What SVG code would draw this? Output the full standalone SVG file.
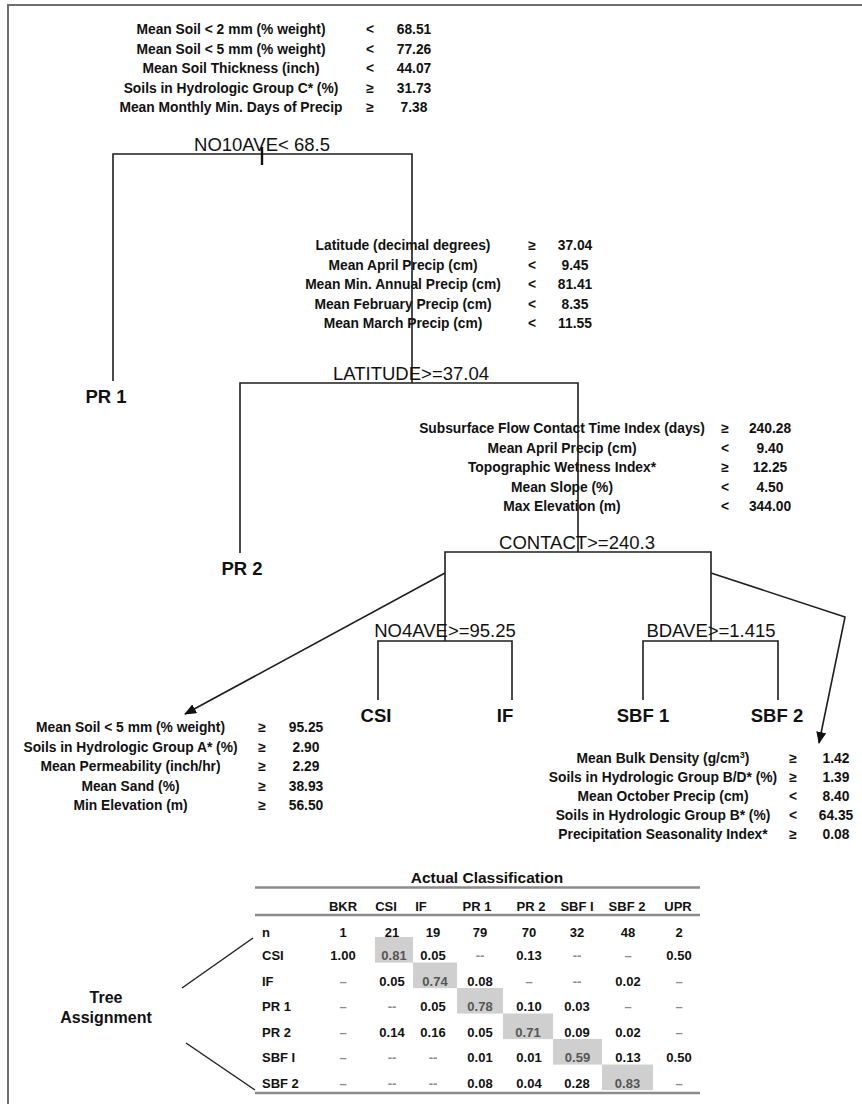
<svg xmlns="http://www.w3.org/2000/svg" width="862" height="1104" viewBox="0 0 862 1104">
<style>
text{font-family:"Liberation Sans",Arial,sans-serif;fill:#111}
.lab{font-weight:bold;font-size:13.8px;text-anchor:middle}
.split{font-size:18.5px;text-anchor:middle}
.leaf{font-weight:bold;font-size:18.5px;text-anchor:middle}
.ln{stroke:#1e1e1e;stroke-width:1.6;fill:none}
.frame{stroke:#6e6e6e;stroke-width:2;fill:none}
.tb{font-family:"Liberation Sans Narrow","Liberation Sans",Arial,sans-serif;font-weight:bold;font-size:13px;text-anchor:middle}
.rl{text-anchor:start}
.dd{fill:#8a8a8a}
.hl{fill:#cfcfcf}
.hv{fill:#555}
.rule{stroke:#8c8c8c;stroke-width:2.6}
</style>
<defs>
<marker id="ah" viewBox="0 0 12 10" refX="11" refY="5" markerWidth="12" markerHeight="10" markerUnits="userSpaceOnUse" orient="auto">
<path d="M0,0 L12,5 L0,10 z" fill="#111"/>
</marker>
</defs>
<rect width="862" height="1104" fill="#fff"/>
<path class="frame" d="M8,1104 V5 H862"/>

<g id="rules-root" class="lab">
<text x="231" y="34">Mean Soil &lt; 2 mm (% weight)</text><text x="370" y="34">&lt;</text><text x="414" y="34">68.51</text>
<text x="231" y="53.5">Mean Soil &lt; 5 mm (% weight)</text><text x="370" y="53.5">&lt;</text><text x="414" y="53.5">77.26</text>
<text x="231" y="73">Mean Soil Thickness (inch)</text><text x="370" y="73">&lt;</text><text x="414" y="73">44.07</text>
<text x="231" y="92.5">Soils in Hydrologic Group C* (%)</text><text x="370" y="92.5">≥</text><text x="414" y="92.5">31.73</text>
<text x="231" y="112">Mean Monthly Min. Days of Precip</text><text x="370" y="112">≥</text><text x="414" y="112">7.38</text>
</g>

<g id="rules-latitude" class="lab">
<text x="403" y="250">Latitude (decimal degrees)</text><text x="532" y="250">≥</text><text x="575" y="250">37.04</text>
<text x="403" y="269.5">Mean April Precip (cm)</text><text x="532" y="269.5">&lt;</text><text x="575" y="269.5">9.45</text>
<text x="403" y="289">Mean Min. Annual Precip (cm)</text><text x="532" y="289">&lt;</text><text x="575" y="289">81.41</text>
<text x="403" y="308.5">Mean February Precip (cm)</text><text x="532" y="308.5">&lt;</text><text x="575" y="308.5">8.35</text>
<text x="403" y="328">Mean March Precip (cm)</text><text x="532" y="328">&lt;</text><text x="575" y="328">11.55</text>
</g>

<g id="rules-contact" class="lab">
<text x="562" y="433">Subsurface Flow Contact Time Index (days)</text><text x="725" y="433">≥</text><text x="770" y="433">240.28</text>
<text x="562" y="452.5">Mean April Precip (cm)</text><text x="725" y="452.5">&lt;</text><text x="770" y="452.5">9.40</text>
<text x="562" y="472">Topographic Wetness Index*</text><text x="725" y="472">≥</text><text x="770" y="472">12.25</text>
<text x="562" y="491.5">Mean Slope (%)</text><text x="725" y="491.5">&lt;</text><text x="770" y="491.5">4.50</text>
<text x="562" y="511">Max Elevation (m)</text><text x="725" y="511">&lt;</text><text x="770" y="511">344.00</text>
</g>

<g id="rules-csi-if" class="lab">
<text x="130.5" y="732">Mean Soil &lt; 5 mm (% weight)</text><text x="262" y="732">≥</text><text x="306" y="732">95.25</text>
<text x="130.5" y="751.5">Soils in Hydrologic Group A* (%)</text><text x="262" y="751.5">≥</text><text x="306" y="751.5">2.90</text>
<text x="130.5" y="771">Mean Permeability (inch/hr)</text><text x="262" y="771">≥</text><text x="306" y="771">2.29</text>
<text x="130.5" y="790.5">Mean Sand (%)</text><text x="262" y="790.5">≥</text><text x="306" y="790.5">38.93</text>
<text x="130.5" y="810">Min Elevation (m)</text><text x="262" y="810">≥</text><text x="306" y="810">56.50</text>
</g>

<g id="rules-sbf" class="lab">
<text x="663" y="763">Mean Bulk Density (g/cm<tspan dy="-5" font-size="9px">3</tspan><tspan dy="5">)</tspan></text><text x="793" y="763">≥</text><text x="836" y="763">1.42</text>
<text x="663" y="782">Soils in Hydrologic Group B/D* (%)</text><text x="793" y="782">≥</text><text x="836" y="782">1.39</text>
<text x="663" y="801">Mean October Precip (cm)</text><text x="793" y="801">&lt;</text><text x="836" y="801">8.40</text>
<text x="663" y="820">Soils in Hydrologic Group B* (%)</text><text x="793" y="820">&lt;</text><text x="836" y="820">64.35</text>
<text x="663" y="839">Precipitation Seasonality Index*</text><text x="793" y="839">≥</text><text x="836" y="839">0.08</text>
</g>

<g id="connectors">
<path class="ln" d="M113,381 V154 H412 V383"/>
<path d="M262,147 V165" stroke="#111" stroke-width="2.4"/>
<path class="ln" d="M240,553 V383 H578 V552"/>
<path class="ln" d="M445,641 V552 H711 V641"/>
<path class="ln" d="M378,700 V641 H512 V700"/>
<path class="ln" d="M643,700 V641 H778 V700"/>
<path class="ln" d="M445,573 L185,714" marker-end="url(#ah)"/>
<path class="ln" d="M711,573 L845,617 L819,743" marker-end="url(#ah)"/>
</g>

<g id="node-no10ave"><text class="split" x="262" y="151">NO10AVE&lt; 68.5</text></g>
<g id="node-latitude"><text class="split" x="411" y="380">LATITUDE&gt;=37.04</text></g>
<g id="node-contact"><text class="split" x="577" y="549">CONTACT&gt;=240.3</text></g>
<g id="node-no4ave"><text class="split" x="445" y="637">NO4AVE&gt;=95.25</text></g>
<g id="node-bdave"><text class="split" x="711" y="637">BDAVE&gt;=1.415</text></g>
<g id="leaf-pr1"><text class="leaf" x="106" y="403">PR 1</text></g>
<g id="leaf-pr2"><text class="leaf" x="242" y="575">PR 2</text></g>
<g id="leaf-csi"><text class="leaf" x="376" y="722">CSI</text></g>
<g id="leaf-if"><text class="leaf" x="505" y="722">IF</text></g>
<g id="leaf-sbf1"><text class="leaf" x="643" y="722">SBF 1</text></g>
<g id="leaf-sbf2"><text class="leaf" x="777" y="722">SBF 2</text></g>

<g id="table">
<rect class="hl" x="375" y="937" width="38" height="25.6"/>
<rect class="hl" x="413" y="962.5" width="44" height="25.6"/>
<rect class="hl" x="457" y="988" width="46" height="25.6"/>
<rect class="hl" x="503" y="1013.5" width="50" height="25.6"/>
<rect class="hl" x="553" y="1039" width="49" height="25.6"/>
<rect class="hl" x="602" y="1064.5" width="51" height="25.6"/>
<text x="487" y="883" font-weight="bold" font-size="15.5px" text-anchor="middle">Actual Classification</text>
<path class="rule" d="M255,887.5 H700 M255,915 H700 M255,1093 H700"/>
<g class="tb">
<text x="343" y="911">BKR</text><text x="386" y="911">CSI</text><text x="421" y="911">IF</text><text x="477" y="911">PR 1</text><text x="531" y="911">PR 2</text><text x="577" y="911">SBF I</text><text x="627" y="911">SBF 2</text><text x="678" y="911">UPR</text>
<text class="rl" x="262" y="937">n</text><text x="343" y="937">1</text><text x="392" y="937">21</text><text x="433" y="937">19</text><text x="480" y="937">79</text><text x="529" y="937">70</text><text x="577" y="937">32</text><text x="628" y="937">48</text><text x="679" y="937">2</text>
<text class="rl" x="262" y="960">CSI</text><text x="343" y="960">1.00</text><text class="hv" x="394" y="960">0.81</text><text x="433" y="960">0.05</text><text class="dd" x="480" y="960">--</text><text x="529" y="960">0.13</text><text class="dd" x="577" y="960">--</text><text class="dd" x="628" y="960">–</text><text x="679" y="960">0.50</text>
<text class="rl" x="262" y="985.5">IF</text><text class="dd" x="343" y="985.5">–</text><text x="392" y="985.5">0.05</text><text class="hv" x="435" y="985.5">0.74</text><text x="480" y="985.5">0.08</text><text class="dd" x="529" y="985.5">–</text><text class="dd" x="577" y="985.5">--</text><text x="628" y="985.5">0.02</text><text class="dd" x="679" y="985.5">–</text>
<text class="rl" x="262" y="1011">PR 1</text><text class="dd" x="343" y="1011">–</text><text class="dd" x="392" y="1011">--</text><text x="433" y="1011">0.05</text><text class="hv" x="480" y="1011">0.78</text><text x="529" y="1011">0.10</text><text x="577" y="1011">0.03</text><text class="dd" x="628" y="1011">–</text><text class="dd" x="679" y="1011">–</text>
<text class="rl" x="262" y="1036.5">PR 2</text><text class="dd" x="343" y="1036.5">–</text><text x="392" y="1036.5">0.14</text><text x="433" y="1036.5">0.16</text><text x="480" y="1036.5">0.05</text><text class="hv" x="528" y="1036.5">0.71</text><text x="577" y="1036.5">0.09</text><text x="628" y="1036.5">0.02</text><text class="dd" x="679" y="1036.5">–</text>
<text class="rl" x="262" y="1062">SBF I</text><text class="dd" x="343" y="1062">–</text><text class="dd" x="392" y="1062">--</text><text class="dd" x="433" y="1062">--</text><text x="480" y="1062">0.01</text><text x="529" y="1062">0.01</text><text class="hv" x="577.5" y="1062">0.59</text><text x="628" y="1062">0.13</text><text x="679" y="1062">0.50</text>
<text class="rl" x="262" y="1087.5">SBF 2</text><text class="dd" x="343" y="1087.5">–</text><text class="dd" x="392" y="1087.5">--</text><text class="dd" x="433" y="1087.5">--</text><text x="480" y="1087.5">0.08</text><text x="529" y="1087.5">0.04</text><text x="577" y="1087.5">0.28</text><text class="hv" x="627.5" y="1087.5">0.83</text><text class="dd" x="679" y="1087.5">–</text>
</g>
<text x="106" y="1003" font-weight="bold" font-size="16px" text-anchor="middle">Tree</text>
<text x="106" y="1023" font-weight="bold" font-size="16px" text-anchor="middle">Assignment</text>
<path d="M182,988 L253,938 M186,1043 L255,1090" stroke="#222" stroke-width="1.5" fill="none"/>
</g>
</svg>
